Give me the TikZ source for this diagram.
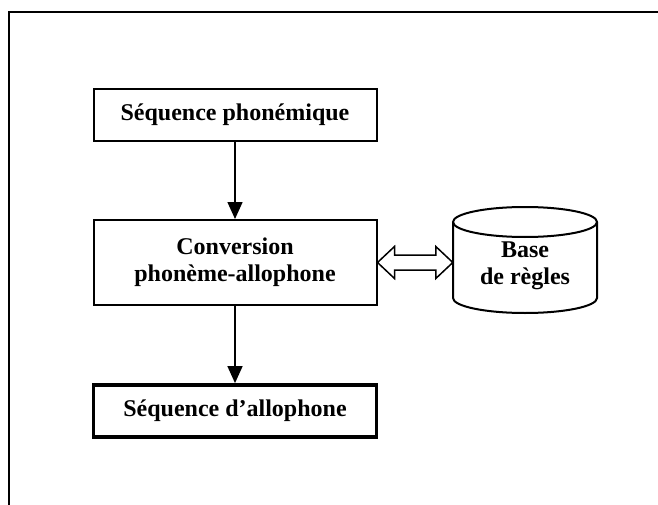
\documentclass[tikz,border=0pt]{standalone}
\usepackage{fontspec}
\setmainfont{Liberation Serif}
\usetikzlibrary{arrows.meta,calc}
\begin{document}
\begin{tikzpicture}[x=1pt,y=-1pt,
  lbl/.style={font=\fontsize{24}{27}\selectfont\bfseries, align=center},
  box/.style={lbl, draw, line width=2pt, minimum width=283pt, inner sep=0pt},
  flow/.style={line width=1.5pt, -{Triangle[length=17pt,width=15pt]}},
  hollow/.style={draw, line width=1.5pt, fill=white, line join=miter}]
\useasboundingbox (0,0) rectangle (658,505);
% page frame (top and left edges only)
\draw[line width=2pt] (9,505) -- (9,12) -- (658,12);

% processing chain
\node[box, minimum height=52pt] (seq) at (235,115) {Séquence phonémique};
\node[box, minimum height=85pt] (conv) at (235,262.5) {Conversion\\phonème-allophone};
\node[box, line width=3.8pt, minimum height=52pt] (allo) at (235,411) {Séquence d’allophone};

% rule base (cylinder)
\node[lbl, minimum width=144pt, minimum height=108pt, inner sep=0pt] (rules) at (525,266) {Base\\de règles};
\draw[line width=2pt] (525,222) ellipse [x radius=72pt, y radius=15pt];
\draw[line width=2pt] (453,222) -- (453,298)
  arc[start angle=180, end angle=360, x radius=72pt, y radius=15pt] -- (597,222);

% connectors
\draw[flow] (seq) -- (conv);
\draw[flow] (conv) -- (allo);
\draw[hollow] (conv.east) -- ++(17,-16) -- ++(0,8.5)
  -- ($(rules.west |- conv.east)+(-17,-7.5)$) -- ++(0,-8.5)
  -- (rules.west |- conv.east) -- ++(-17,16) -- ++(0,-8.5)
  -- ($(conv.east)+(17,7.5)$) -- ++(0,8.5) -- cycle;
\end{tikzpicture}
\end{document}
